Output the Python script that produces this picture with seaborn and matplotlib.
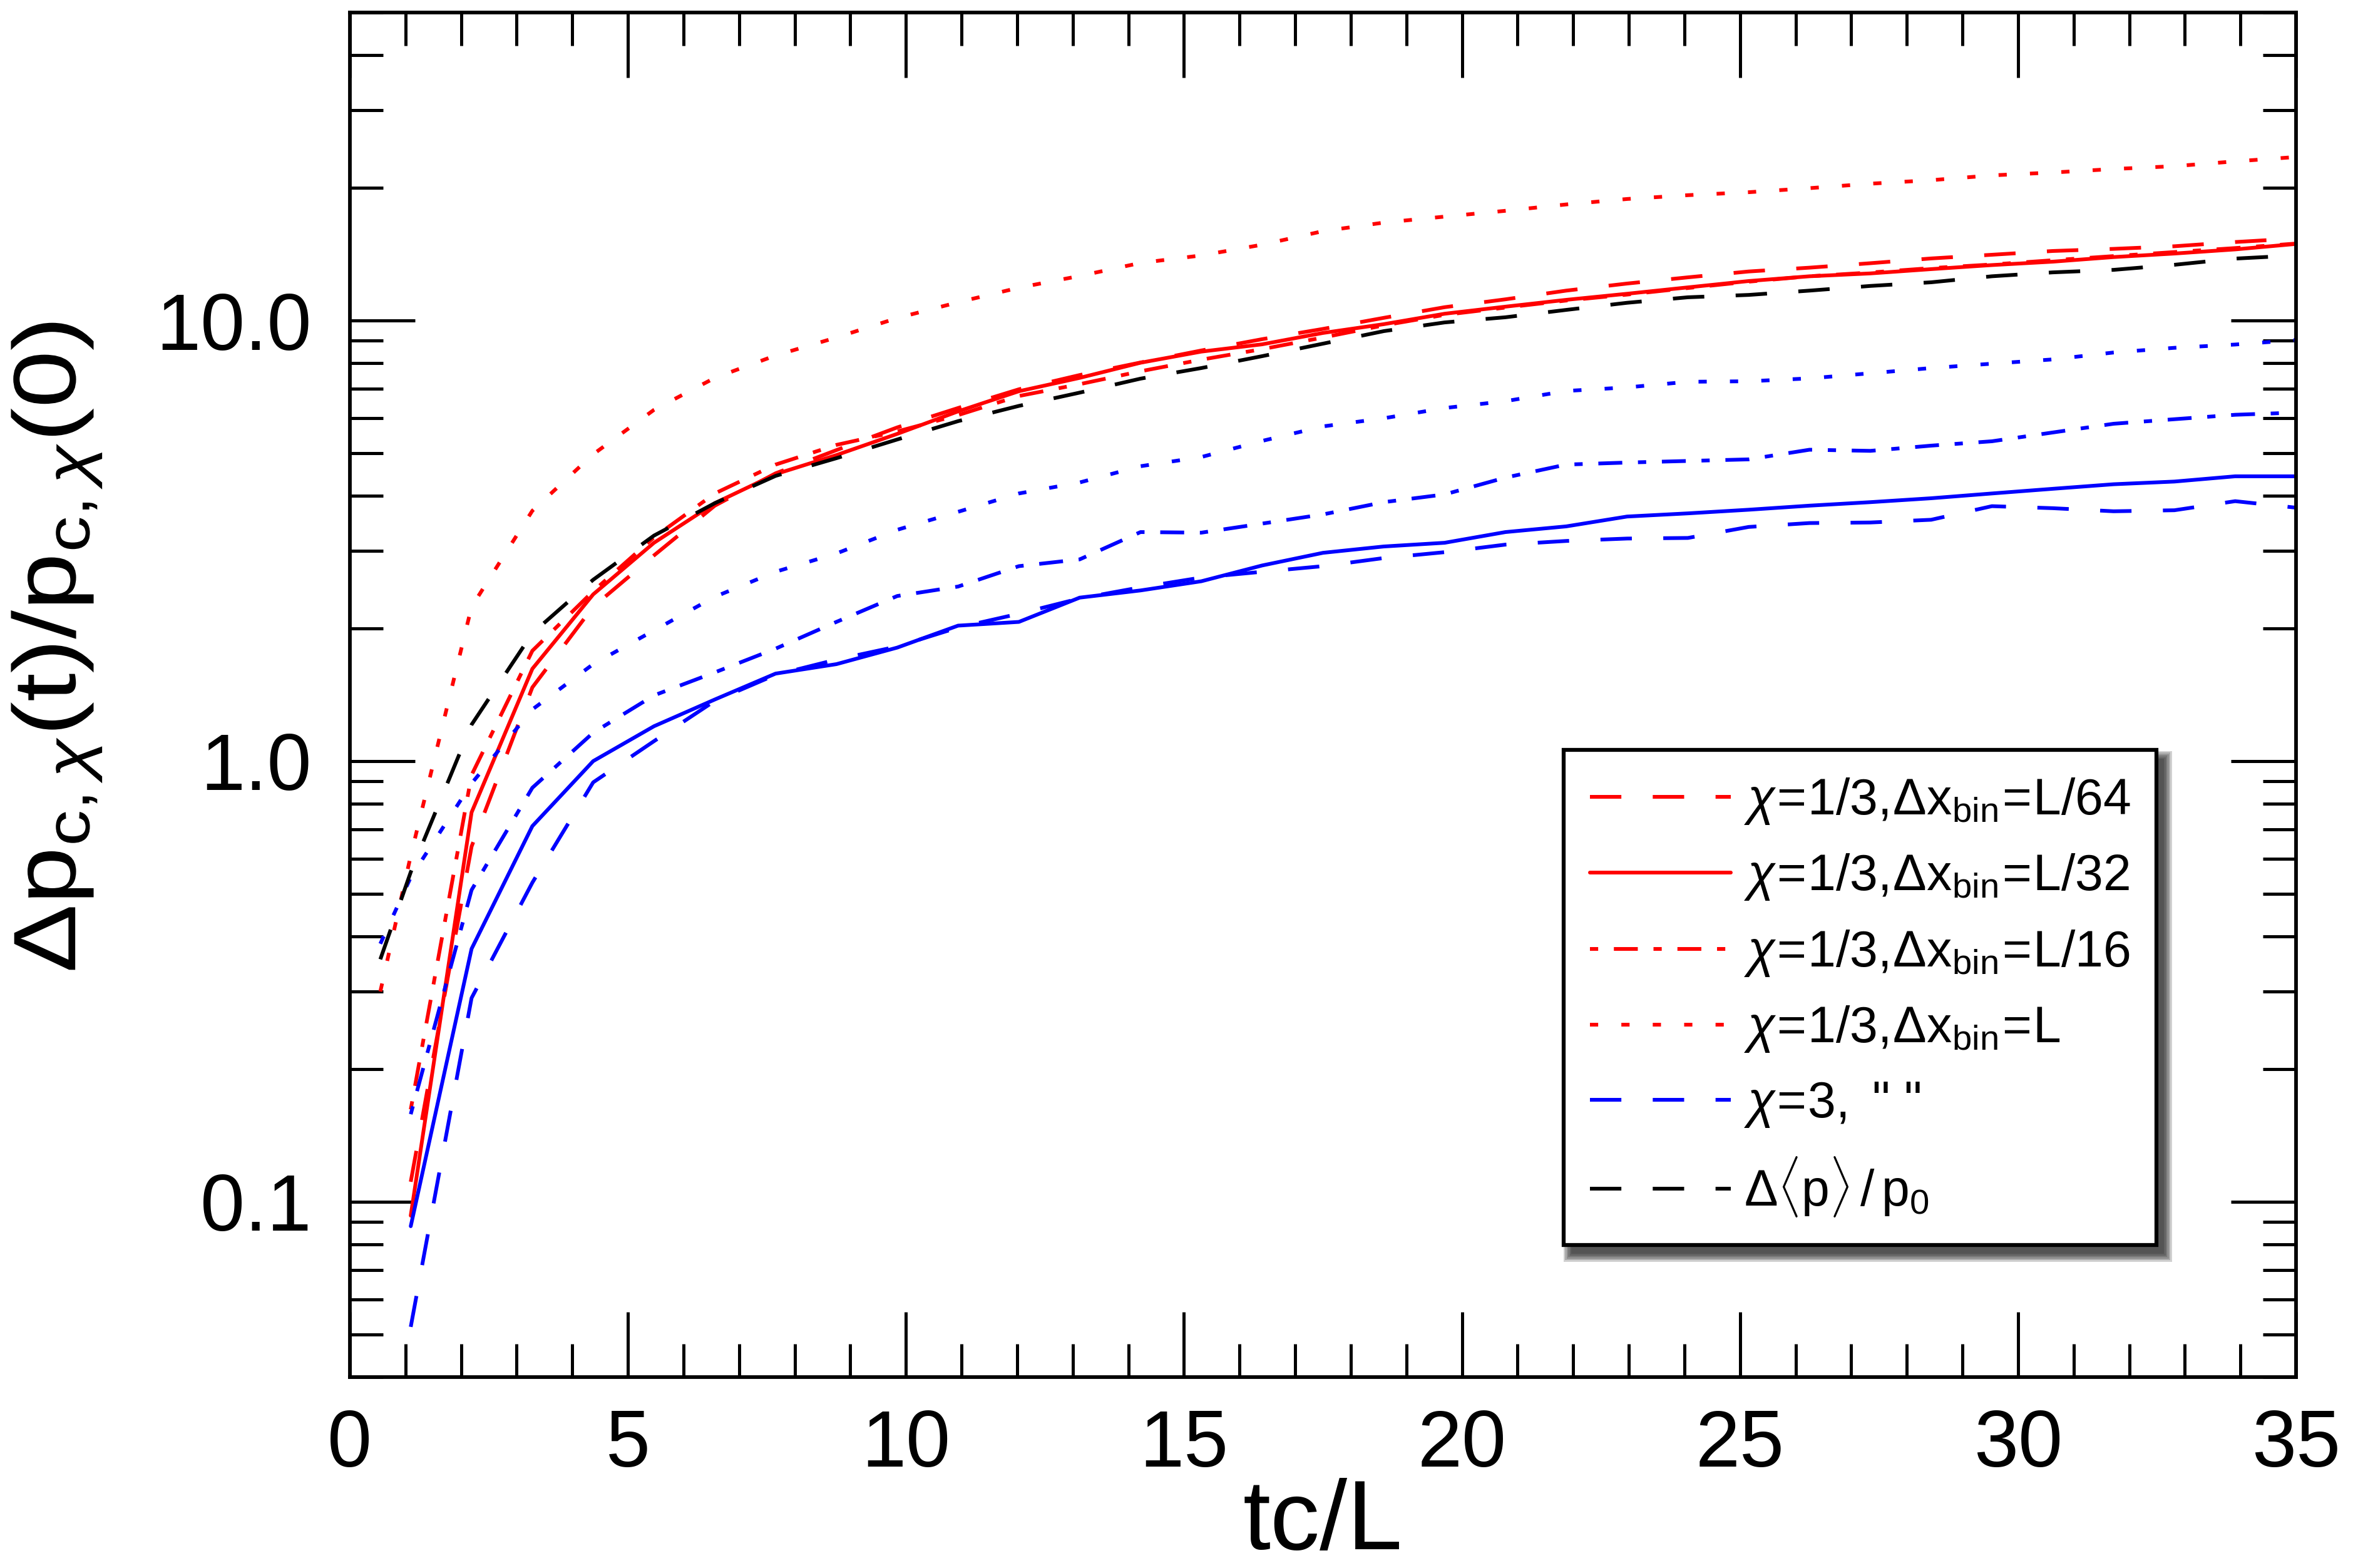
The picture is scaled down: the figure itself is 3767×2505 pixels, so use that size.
import numpy as np
import pandas as pd
import seaborn as sns
import matplotlib
matplotlib.use("Agg")
import matplotlib.pyplot as plt
from matplotlib.lines import Line2D
from matplotlib.patches import Rectangle
from matplotlib.patheffects import AbstractPathEffect
from matplotlib.transforms import Affine2D
from matplotlib.ticker import MultipleLocator, LogLocator, NullFormatter, FixedLocator

# ---------------- data ----------------
tcL = [1.094, 2.188, 3.281, 4.375, 5.469, 6.563, 7.656, 8.750, 9.844, 10.938,
       12.031, 13.125, 14.219, 15.313, 16.406, 17.500, 18.594, 19.688, 20.781,
       21.875, 22.969, 24.063, 25.156, 26.250, 27.344, 28.438, 29.531, 30.625,
       31.719, 32.813, 33.906, 35.000]
tcL_early = [0.547] + tcL

red_L64 = [0.111, 0.64, 1.47, 2.24, 2.93, 3.80, 4.50, 5.08, 5.72, 6.33, 6.98, 7.52,
           8.03, 8.55, 9.07, 9.57, 10.14, 10.72, 11.17, 11.69, 12.13, 12.53, 12.92,
           13.18, 13.49, 13.83, 14.10, 14.38, 14.54, 14.74, 15.07, 15.35]
red_L32 = [0.093, 0.765, 1.62, 2.39, 3.13, 3.85, 4.48, 4.95, 5.53, 6.22, 6.91, 7.41,
           8.02, 8.50, 8.83, 9.37, 9.81, 10.36, 10.75, 11.14, 11.50, 11.89, 12.29,
           12.60, 12.79, 13.08, 13.36, 13.60, 13.93, 14.19, 14.50, 14.92]
red_L16 = [0.162, 0.93, 1.78, 2.43, 3.22, 4.05, 4.71, 5.22, 5.60, 6.10, 6.74, 7.17,
           7.67, 8.15, 8.61, 9.15, 9.75, 10.30, 10.70, 11.10, 11.45, 11.85, 12.25,
           12.60, 12.85, 13.15, 13.40, 13.70, 14.00, 14.30, 14.60, 14.95]
red_L = [0.30, 0.61, 2.24, 3.70, 4.97, 6.27, 7.41, 8.33, 9.15, 10.13, 11.00, 11.87,
         12.62, 13.51, 14.05, 14.86, 15.95, 16.68, 17.21, 17.74, 18.34, 18.87, 19.25,
         19.55, 19.97, 20.44, 20.82, 21.35, 21.67, 22.07, 22.40, 22.97, 23.50]

blue_L64 = [0.052, 0.29, 0.53, 0.895, 1.11, 1.37, 1.57, 1.70, 1.82, 2.01, 2.16, 2.34,
            2.48, 2.61, 2.69, 2.77, 2.89, 2.98, 3.10, 3.16, 3.20, 3.21, 3.40, 3.47,
            3.48, 3.53, 3.79, 3.75, 3.69, 3.71, 3.89, 3.76]
blue_L32 = [0.088, 0.375, 0.712, 1.00, 1.20, 1.38, 1.58, 1.66, 1.81, 2.03, 2.07, 2.35,
            2.44, 2.56, 2.78, 2.97, 3.07, 3.13, 3.31, 3.41, 3.59, 3.65, 3.72, 3.80,
            3.87, 3.95, 4.05, 4.15, 4.25, 4.31, 4.43, 4.43]
blue_L16 = [0.158, 0.51, 0.87, 1.16, 1.41, 1.59, 1.80, 2.07, 2.37, 2.49, 2.77, 2.87,
            3.31, 3.30, 3.46, 3.63, 3.87, 4.03, 4.40, 4.71, 4.76, 4.80, 4.84, 5.09,
            5.06, 5.20, 5.32, 5.57, 5.83, 5.97, 6.11, 6.18]
blue_L = [0.385, 0.545, 0.89, 1.31, 1.66, 1.98, 2.36, 2.69, 2.96, 3.35, 3.68, 4.05,
          4.29, 4.67, 4.90, 5.33, 5.75, 6.00, 6.33, 6.56, 6.92, 7.05, 7.26, 7.28,
          7.39, 7.59, 7.80, 7.98, 8.16, 8.46, 8.67, 8.82, 9.03]

black_mean = [0.355, 0.56, 1.21, 1.95, 2.58, 3.25, 3.85, 4.44, 4.87, 5.37, 5.91, 6.40,
              6.86, 7.38, 7.80, 8.30, 8.86, 9.46, 9.90, 10.17, 10.57, 10.97, 11.29,
              11.43, 11.69, 11.98, 12.21, 12.60, 12.86, 13.03, 13.38, 13.82, 14.05]

legend_labels = [
    r"$\chi\!=\!1/3,\!\Delta\mathrm{x}_{\mathrm{bin}}\!=\!\mathrm{L}/64$",
    r"$\chi\!=\!1/3,\!\Delta\mathrm{x}_{\mathrm{bin}}\!=\!\mathrm{L}/32$",
    r"$\chi\!=\!1/3,\!\Delta\mathrm{x}_{\mathrm{bin}}\!=\!\mathrm{L}/16$",
    r"$\chi\!=\!1/3,\!\Delta\mathrm{x}_{\mathrm{bin}}\!=\!\mathrm{L}$",
    r'$\chi\!=\!3,$ " "',
    r"$\Delta\langle\mathrm{p}\rangle\,/\,\mathrm{p}_{0}$",
]
ytick_vals = [0.1, 1.0, 10.0]
ytick_labels = ["0.1", "1.0", "10.0"]
xtick_vals = [0, 5, 10, 15, 20, 25, 30, 35]


class HStretch(AbstractPathEffect):
    """Widen glyphs along the text baseline (the reference font is wide)."""

    def __init__(self, sx=1.0):
        super().__init__()
        self.sx = sx

    def draw_path(self, renderer, gc, tpath, affine, rgbFace=None):
        ext = tpath.get_extents()
        cx = 0.5 * (ext.x0 + ext.x1)
        t = Affine2D().translate(-cx, 0).scale(self.sx, 1.0).translate(cx, 0) + affine
        renderer.draw_path(gc, tpath, t, rgbFace)


# ---------------- style ----------------
sns.set_theme(style="white")
plt.rcParams["font.family"] = ["Liberation Sans", "DejaVu Sans"]
plt.rcParams["mathtext.fontset"] = "custom"
plt.rcParams["mathtext.rm"] = "Liberation Sans"
plt.rcParams["mathtext.it"] = "Liberation Sans:italic"
plt.rcParams["mathtext.bf"] = "Liberation Sans:bold"
plt.rcParams["mathtext.sf"] = "Liberation Sans"

LW = 4.3
DASH = (0, (8.4, 8.4))
DOT = (0, (2.2, 6.2))
DASHDOT = (0, (2.2, 4.2, 6.4, 4.2))
RED, BLUE, BLACK = "#ff0000", "#0000ff", "#000000"

W, H = 3767, 2505
fig = plt.figure(figsize=(W / 100, H / 100), dpi=100)
fig.patch.set_facecolor("white")
ax_l, ax_r, ax_t, ax_b = 559, 3668, 20, 2200
ax = fig.add_axes([ax_l / W, 1 - ax_b / H, (ax_r - ax_l) / W, (ax_b - ax_t) / H])
ax.set_facecolor("white")
ax.set_yscale("log")

series = [
    (tcL, red_L64, RED, DASH),
    (tcL, red_L32, RED, "-"),
    (tcL, red_L16, RED, DASHDOT),
    (tcL_early, red_L, RED, DOT),
    (tcL, blue_L64, BLUE, DASH),
    (tcL, blue_L32, BLUE, "-"),
    (tcL, blue_L16, BLUE, DASHDOT),
    (tcL_early, blue_L, BLUE, DOT),
    (tcL_early, black_mean, BLACK, DASH),
]
for xs, ys, col, ls in series:
    df = pd.DataFrame({"t": xs, "v": ys})
    sns.lineplot(data=df, x="t", y="v", ax=ax, color=col, linestyle=ls,
                 linewidth=LW, estimator=None, errorbar=None, legend=False)

ax.set_xlim(0, 35)
ax.set_ylim(0.04, 50)

# ticks
ax.xaxis.set_major_locator(FixedLocator(xtick_vals))
ax.set_xticklabels([str(v) for v in xtick_vals])
ax.xaxis.set_minor_locator(MultipleLocator(1))
ax.yaxis.set_major_locator(FixedLocator(ytick_vals))
ax.set_yticklabels(ytick_labels)
ax.yaxis.set_minor_locator(LogLocator(base=10, subs=np.arange(2, 10), numticks=30))
ax.yaxis.set_minor_formatter(NullFormatter())
ax.tick_params(which="both", direction="in", top=True, right=True,
               bottom=True, left=True, color="black", width=3.6,
               labelcolor="black")
ax.tick_params(which="major", length=75, labelsize=92)
ax.tick_params(which="minor", length=38)
ax.tick_params(axis="x", which="major", pad=36)
ax.tick_params(axis="y", which="major", pad=44)
for s in ax.spines.values():
    s.set_color("black")
    s.set_linewidth(4.2)
ax.grid(False)

ax.set_xlabel("tc/L", fontsize=114, color="black")
ax.set_ylabel(r"$\Delta\mathrm{p}_{\mathrm{c},\chi}(\mathrm{t})/\mathrm{p}_{\mathrm{c},\chi}(0)$",
              fontsize=102, color="black")
ax.xaxis.set_label_coords(0.5, -0.1261)
ax.xaxis.label.set_verticalalignment("baseline")
ax.yaxis.set_label_coords(-0.1265, 0.535)
ax.yaxis.label.set_path_effects([HStretch(1.16)])

# legend
handles = [
    Line2D([], [], color=RED, linestyle=DASH, linewidth=LW),
    Line2D([], [], color=RED, linestyle="-", linewidth=LW),
    Line2D([], [], color=RED, linestyle=DASHDOT, linewidth=LW),
    Line2D([], [], color=RED, linestyle=DOT, linewidth=LW),
    Line2D([], [], color=BLUE, linestyle=DASH, linewidth=LW),
    Line2D([], [], color=BLACK, linestyle=DASH, linewidth=LW),
]
leg = ax.legend(handles, legend_labels, loc="upper left",
                bbox_to_anchor=(2498 / W, 1 - 1198 / H), bbox_transform=fig.transFigure,
                fontsize=58, frameon=True, fancybox=False, framealpha=1,
                edgecolor="black", facecolor="white", borderpad=0.52,
                labelspacing=0.515, handlelength=2.8, handletextpad=0.25,
                borderaxespad=0)
leg.get_frame().set_linewidth(4.5)
leg.set_zorder(10)
for t in leg.get_texts():
    t.set_color("black")

# drop shadow behind the legend box (soft)
fig.canvas.draw()
bb = leg.get_frame().get_window_extent()
for i in range(6):
    grow = i * 2.5
    r = Rectangle(((bb.x0 + 12 - grow) / W, (bb.y0 - 14 - grow) / H),
                  (bb.width + 2 * grow) / W, (bb.height + 2 * grow) / H,
                  transform=fig.transFigure, facecolor="#1a1a1a",
                  edgecolor="none", alpha=0.2, zorder=9, clip_on=False)
    ax.add_artist(r)

fig.savefig("out.png", dpi=100, facecolor="white")
